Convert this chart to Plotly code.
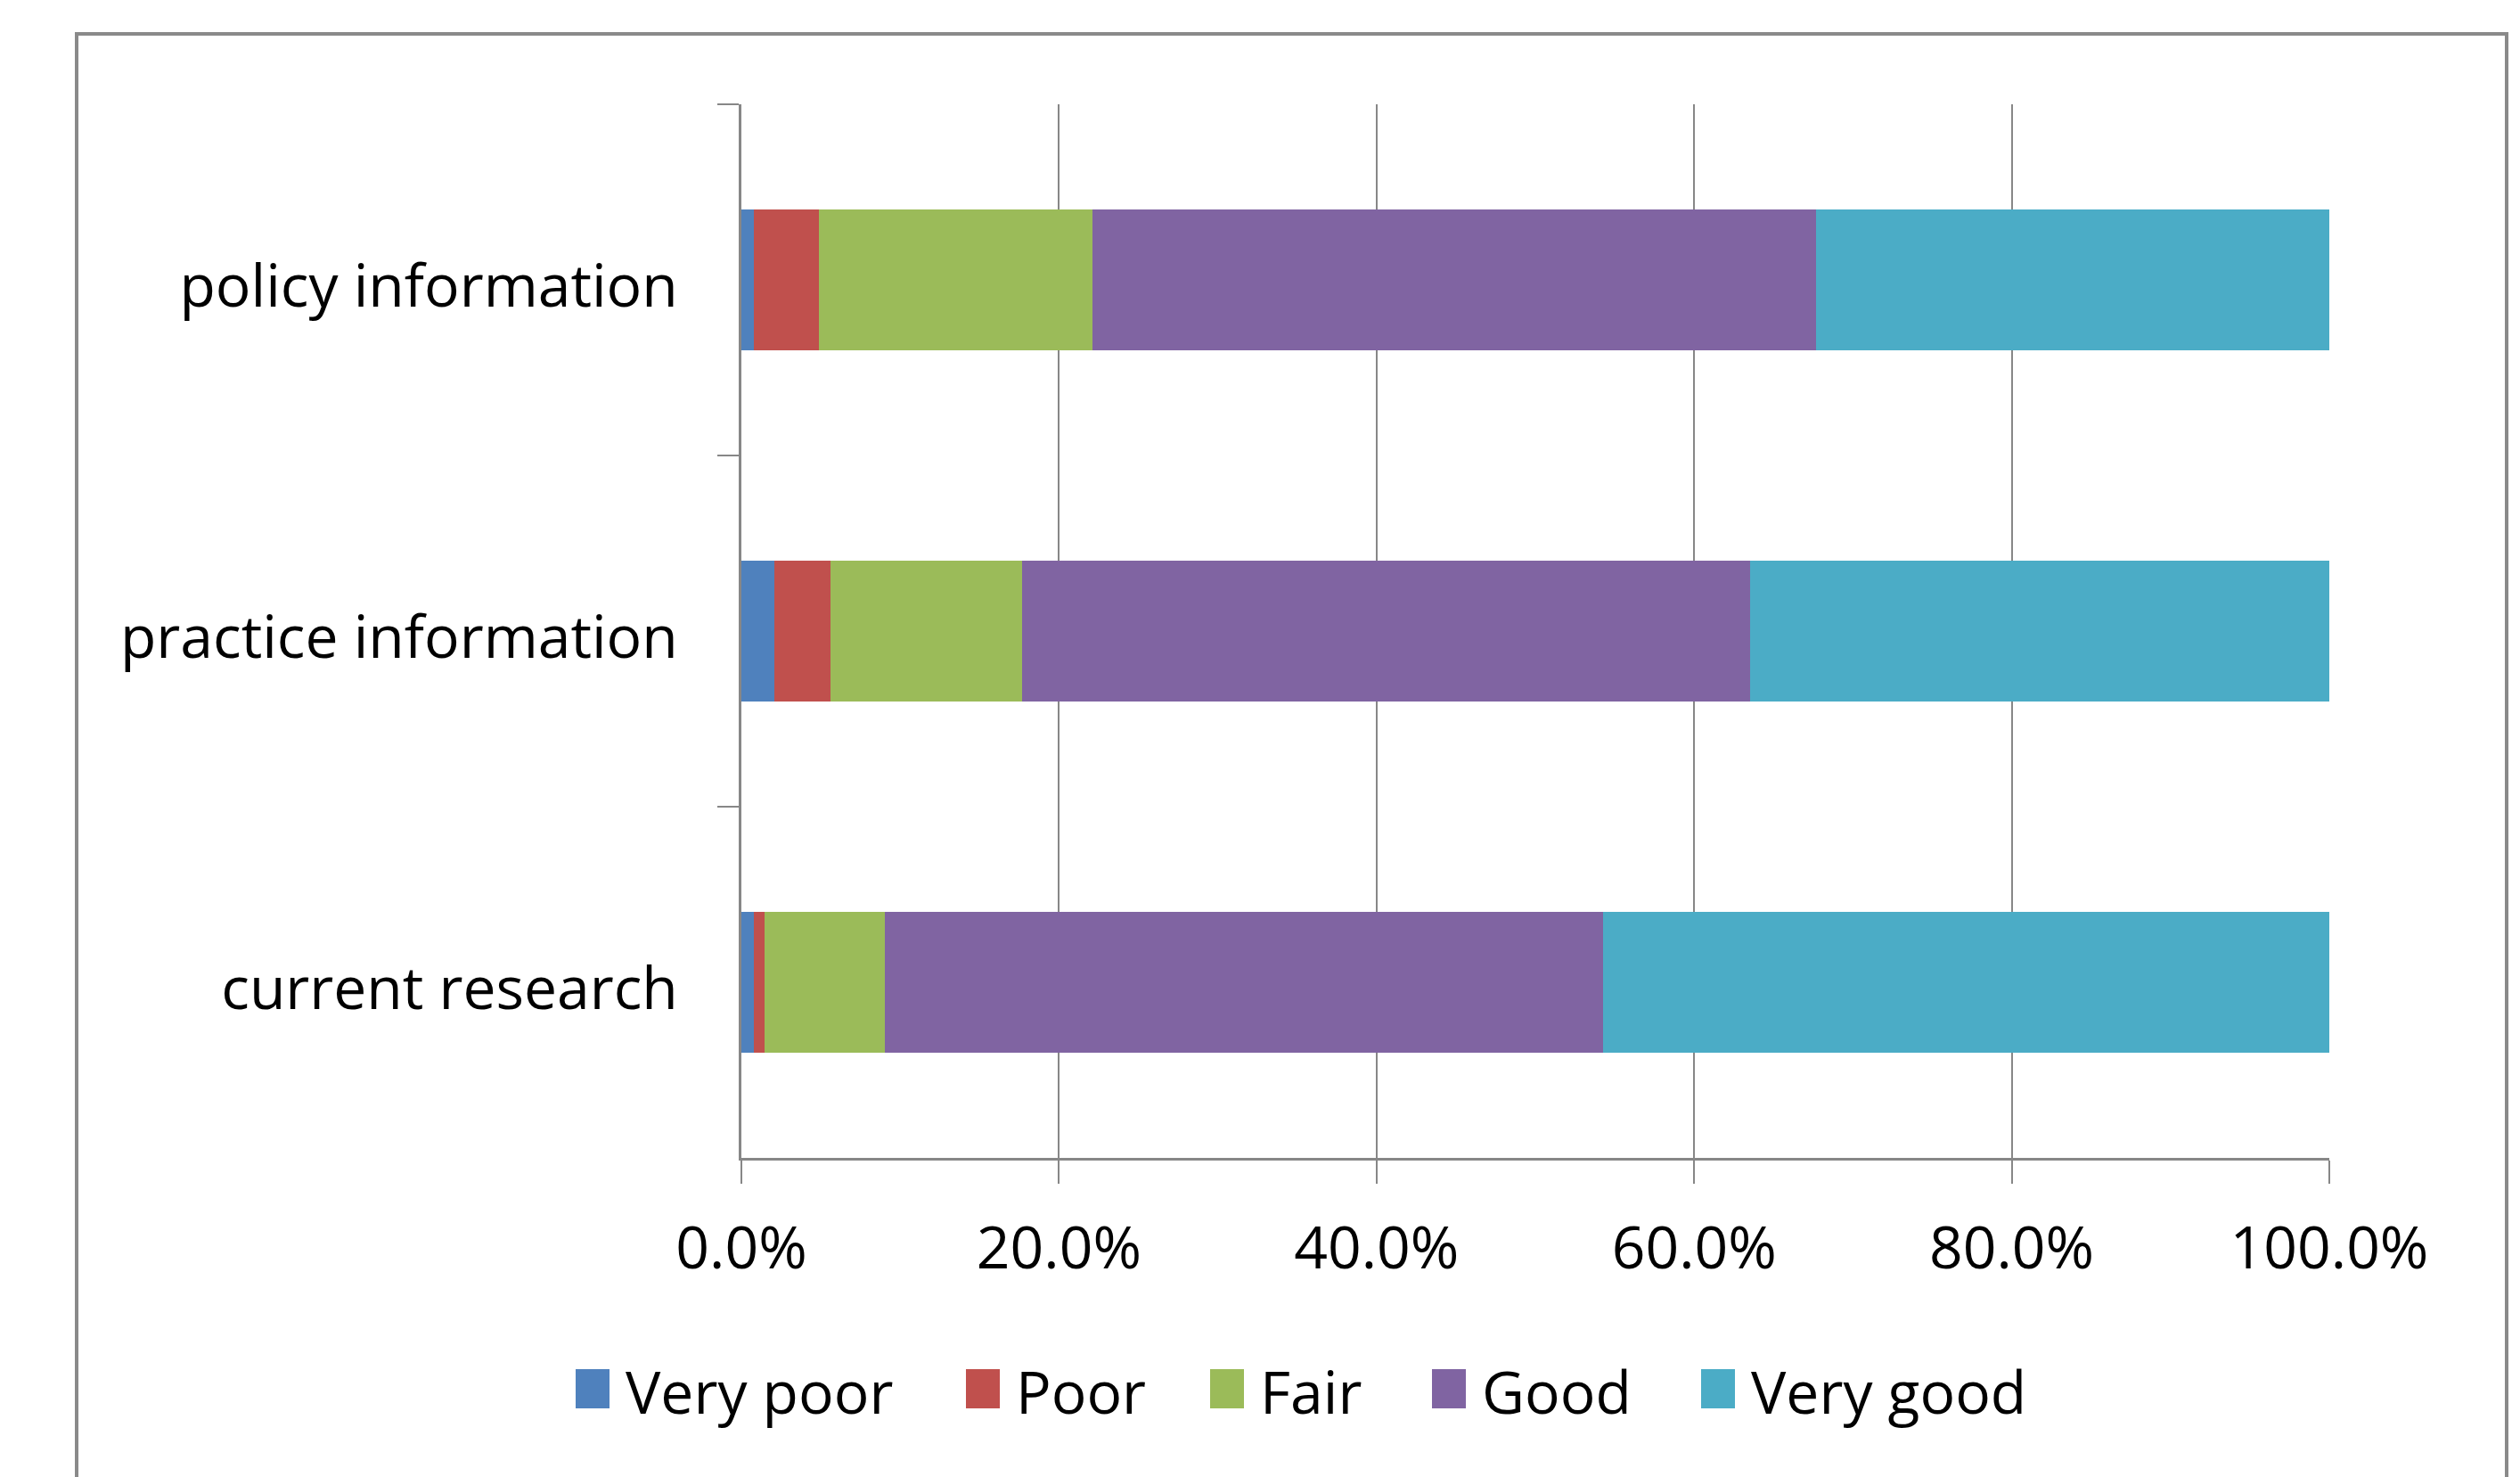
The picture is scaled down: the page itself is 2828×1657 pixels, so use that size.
import plotly.graph_objects as go

# ---------------- data ----------------
categories = ["policy information", "practice information", "current research"]
series_names = ["Very poor", "Poor", "Fair", "Good", "Very good"]
very_poor = [0.8, 2.05, 0.8]
poor = [4.1, 3.55, 0.65]
fair = [17.2, 12.1, 7.6]
good = [45.6, 45.8, 45.2]
very_good = [32.3, 36.5, 45.75]
series_values = [very_poor, poor, fair, good, very_good]
colors = ["#4F81BD", "#C0504D", "#9BBB59", "#8064A2", "#4BACC6"]
x_tick_vals = [0, 0.2, 0.4, 0.6, 0.8, 1.0]

# ---------------- layout constants ----------------
OFF = 8  # default page body margin
W, H = 2828 - OFF, 1657 - OFF
ML, MR, MT, MB = 832 - OFF, 214, 117 - OFF, 358
PW = W - ML - MR
PH = H - MT - MB
FONT = "Open Sans"
FS = 66
GRID = "#878787"


def px(xp):
    """page pixel x -> paper x"""
    return (xp - OFF - ML) / PW


def py(yp):
    """page pixel y -> paper y"""
    return (H - MB - (yp - OFF)) / PH


fig = go.Figure()
for name, vals, col in zip(series_names, series_values, colors):
    fig.add_trace(go.Bar(
        name=name,
        y=categories,
        x=[v / 100 for v in vals],
        orientation="h",
        marker=dict(color=col, line=dict(width=0)),
        showlegend=False,
    ))

shapes = []
annotations = []
# outer chart frame
shapes.append(dict(type="rect", xref="paper", yref="paper",
                   x0=px(86), x1=px(2813), y0=py(1720), y1=py(38),
                   line=dict(color="#8a8a8a", width=4), layer="below"))

# custom legend
legend_left = [646, 1084, 1358, 1607, 1909]
for name, col, lx in zip(series_names, colors, legend_left):
    shapes.append(dict(type="rect", xref="paper", yref="paper",
                       x0=px(lx), x1=px(lx + 38), y0=py(1580), y1=py(1536),
                       fillcolor=col, line=dict(width=0)))
    annotations.append(dict(xref="paper", yref="paper", x=px(lx + 54), y=py(1560),
                            text=name, showarrow=False, xanchor="left", yanchor="middle",
                            font=dict(family=FONT, size=FS, color="black")))

fig.update_layout(
    width=W, height=H,
    margin=dict(l=ML, r=MR, t=MT, b=MB, pad=0),
    barmode="stack",
    bargap=0.6,
    paper_bgcolor="white",
    plot_bgcolor="white",
    font=dict(family=FONT, size=FS, color="black"),
    shapes=shapes,
    annotations=annotations,
    xaxis=dict(
        range=[0, 1],
        tickvals=x_tick_vals,
        tickformat=".1%",
        showgrid=True, gridcolor=GRID, gridwidth=2,
        showline=True, linecolor=GRID, linewidth=3,
        ticks="outside", ticklen=26, tickwidth=2, tickcolor=GRID,
        zeroline=False,
        ticklabelstandoff=16,
        tickfont=dict(family=FONT, size=FS, color="black"),
        fixedrange=True,
    ),
    yaxis=dict(
        type="category",
        autorange="reversed",
        showgrid=False,
        showline=True, linecolor=GRID, linewidth=3,
        ticks="outside", tickson="boundaries", ticklen=24, tickwidth=2, tickcolor=GRID,
        ticklabelstandoff=55,
        ticklabelshift=-7,
        tickfont=dict(family=FONT, size=FS, color="black"),
        fixedrange=True,
    ),
)

fig.write_html("out.html")
